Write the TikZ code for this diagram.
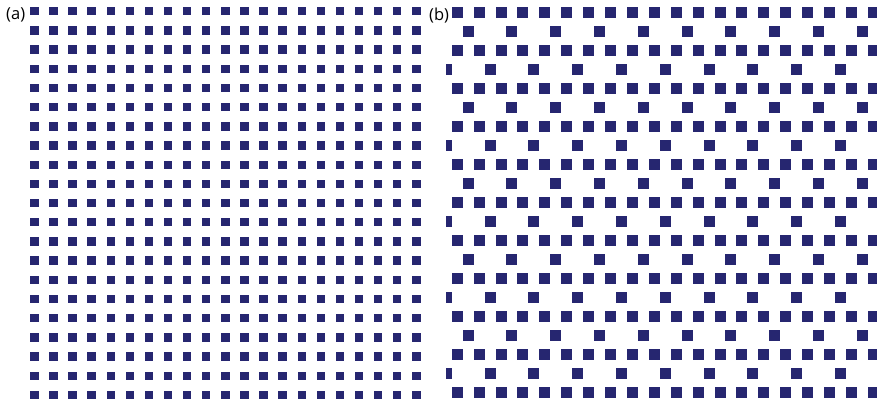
\documentclass[tikz,border=0pt]{standalone}
\usepackage{fontspec}
\setmainfont{Open Sans}
\usepackage{xcolor}
\definecolor{navy}{RGB}{38,38,112}

\begin{document}
\begin{tikzpicture}[
    x = 1pt, y = 1pt,
    cellA/.style = {fill=navy},
    cellB/.style = {fill=navy},
    lbl/.style = {font=\fontsize{16.5}{19}\selectfont, inner sep=0pt, anchor=north west}
  ]
  \useasboundingbox (0,0) rectangle (877,405);

  % panel labels
  \node[lbl] (labela) at (6, 397.5)   {(a)};
  \node[lbl] (labelb) at (429, 397.5) {(b)};

  % (a): plain square lattice, 21 x 21
  \foreach \i in {0,...,20}
    \foreach \j in {0,...,20}
      \fill[cellA] ({34.3+19.1*\i-4.2}, {405-11.3-19.18*\j-4.2}) rectangle ++(8.4, 8.4);

  % (b): full rows with every other row thinned out, clipped at the panel edges
  \begin{scope}
    \clip (446, 0) rectangle (877, 405);
    \foreach \k in {0,...,10}
      \foreach \i in {0,...,19}
        \fill[cellB] ({457.2+21.9*\i-5.5}, {405-12.8-37.98*\k-5.5}) rectangle ++(11, 11);
    \foreach \k in {0,...,4}
      \foreach \i in {0,...,9} {
        \fill[cellB] ({468.15+43.8*\i-5.5}, {405-31.79-75.96*\k-5.5}) rectangle ++(11, 11);
        \fill[cellB] ({446.25+43.8*\i-5.5}, {405-69.77-75.96*\k-5.5}) rectangle ++(11, 11);
      }
  \end{scope}
\end{tikzpicture}
\end{document}
